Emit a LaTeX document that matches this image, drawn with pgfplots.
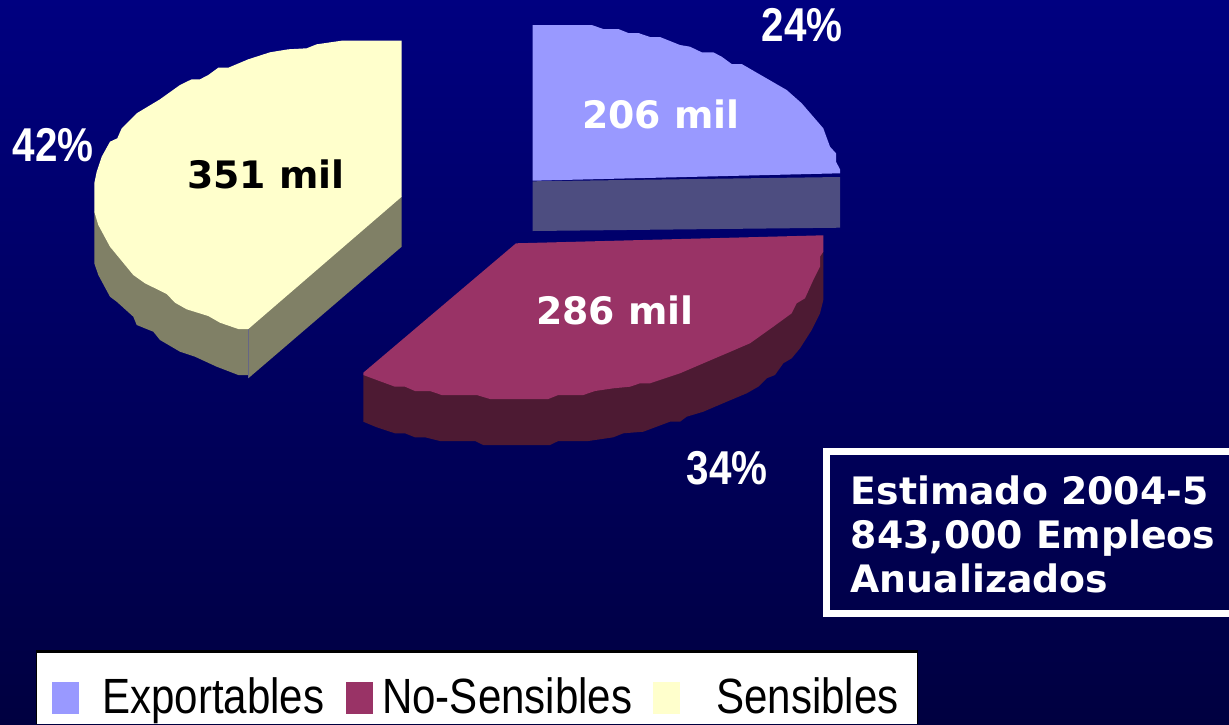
\documentclass[border=0pt]{standalone}
\usepackage{fontspec}
\usepackage{pgfplots}
\pgfplotsset{compat=1.18}
\setmainfont{DejaVu Sans}
\newfontfamily\narrowfont[FakeStretch=0.85]{Liberation Sans}
\definecolor{bgtop}{RGB}{0,0,128}
\definecolor{bgbot}{RGB}{0,0,64}
\definecolor{expo}{RGB}{153,153,255}
\definecolor{exposide}{RGB}{77,77,128}
\definecolor{nosens}{RGB}{153,51,102}
\definecolor{nosensside}{RGB}{77,26,51}
\definecolor{sens}{RGB}{255,255,204}
\definecolor{sensside}{RGB}{128,128,102}

\begin{document}
\begin{tikzpicture}
  \begin{axis}[
    scale only axis,
    width=1229pt, height=724pt,
    xmin=0, xmax=1229,
    ymin=0, ymax=724,
    y dir=reverse,
    xtick=\empty, ytick=\empty,
    axis line style={draw=none},
    axis background/.style={top color=bgtop, bottom color=bgbot},
  ]
    % Sensibles
    \addplot[fill=sensside, draw=none] coordinates {
      (94.3,211.7) (94.3,263.3) (98.3,275) (110,296.7) (116.7,301.7) (133.3,316.7)
      (136.7,325) (153.3,331.7) (160,340) (180,351.7) (195,356.7) (216.7,366.7)
      (238.3,375) (248.3,375) (248.3,378.3) (401.7,246.7) (401.7,196.7)
    } --cycle;
    \addplot[color=sensside!80!blue, line width=0.6pt] coordinates {(248.3,329) (248.3,378)};
    \addplot[fill=sens, draw=none] coordinates {
      (401.7,40.7) (341.7,40.7) (316.7,44.3) (306.7,48.3) (288.3,49.3) (270,52.3)
      (248.3,59.3) (228.3,67.7) (218.3,67.7) (208.3,75) (200,79.3) (191.7,79.3)
      (180,85) (160,99.3) (136.7,113.3) (121.7,128.3) (117.3,138.3) (110,141.7)
      (101.7,156.7) (96.7,171.7) (94.3,183.3) (94.3,211.7) (98.3,225) (110,246.7)
      (133.3,275) (145,283.3) (166.7,294) (175,302.7) (186.7,309.3) (208.3,316)
      (220,322.7) (238.3,329) (248.3,329) (401.7,196.7)
    } --cycle;

    % No-Sensibles
    \addplot[fill=nosensside, draw=none] coordinates {
      (363.3,375) (363.3,421.7) (376.7,427.3) (395,433.3) (405,433.3) (415,437.3)
      (425,437.3) (440,441) (475,441) (483.3,445) (550,445) (558.3,441) (588.3,441)
      (613.3,437.3) (623.3,433.3) (643.3,431.7) (670,421.7) (680,421.7) (686.7,416.7)
      (703.3,411.7) (726.7,401.7) (746.7,393.3) (758.3,386.7) (766.7,378.3) (775,375)
      (783.3,363.3) (791.7,358.3) (800,348.3) (811.7,330) (820,313.3) (823.3,300)
      (823.3,251.7)
    } --cycle;
    \addplot[fill=nosens, draw=none] coordinates {
      (516,243.3) (823.3,235.3) (823.3,251.7) (820,256.7) (820,266.7) (813.3,280)
      (805,298.3) (796.7,303.3) (791.7,313.3) (773.3,326.7) (750,343.3) (726.7,353.3)
      (703.3,363.3) (680,373.3) (650,383.3) (640,383.3) (630,386.7) (613.3,388.3)
      (595,391) (583.3,395) (558.3,395) (548.3,399) (490,399) (476.7,395) (441.7,395)
      (430,391) (415,391) (405,386.7) (395,386.7) (376.7,380) (363.3,375) (363.3,372.7)
    } --cycle;

    % Exportables
    \addplot[fill=exposide, draw=none] coordinates {
      (532.7,181.3) (840,177) (840,227.7) (532.7,231)
    } --cycle;
    \addplot[fill=expo, draw=none] coordinates {
      (532.7,25) (591.7,25) (603.3,29) (618.3,29) (628.3,33) (638.3,33) (650,37) (660,37)
      (680,45) (690,46.7) (701.7,52.3) (713.3,52.3) (721.7,56.7) (731.7,64) (741.7,64)
      (786.7,90) (801.7,103.3) (823.3,128.3) (830,146.7) (836,153.3) (836,161.7)
      (840,169.3) (840,173.3) (532.7,180.7)
    } --cycle;

    % labels on the slices
    \node[anchor=base west, inner sep=0pt, text=white, font=\fontsize{37.8}{44}\selectfont\bfseries] at (axis cs:582,128) {206 mil};
    \node[anchor=base west, inner sep=0pt, text=white, font=\fontsize{37.8}{44}\selectfont\bfseries] at (axis cs:536,324) {286 mil};
    \node[anchor=base west, inner sep=0pt, text=black, font=\fontsize{37.8}{44}\selectfont\bfseries] at (axis cs:187,188) {351 mil};

    % percentages
    \node[anchor=base west, inner sep=0pt, text=white, font=\fontsize{47.5}{54}\selectfont\narrowfont\bfseries] at (axis cs:761.5,41) {24\%};
    \node[anchor=base west, inner sep=0pt, text=white, font=\fontsize{47.5}{54}\selectfont\narrowfont\bfseries] at (axis cs:686.5,484) {34\%};
    \node[anchor=base west, inner sep=0pt, text=white, font=\fontsize{47.5}{54}\selectfont\narrowfont\bfseries] at (axis cs:12.5,161) {42\%};

    % note box, runs off the right edge
    \draw[white, line width=7.5pt] (axis cs:826.7,451.7) rectangle (axis cs:1240,613.3);
    \node[anchor=base west, inner sep=0pt, text=white, font=\fontsize{37.8}{44}\selectfont\bfseries] at (axis cs:850.5,504) {Estimado 2004-5};
    \node[anchor=base west, inner sep=0pt, text=white, font=\fontsize{37.8}{44}\selectfont\bfseries] at (axis cs:850.5,548) {843,000 Empleos};
    \node[anchor=base west, inner sep=0pt, text=white, font=\fontsize{37.8}{44}\selectfont\bfseries] at (axis cs:850.5,592) {Anualizados};

    % legend
    \addplot[fill=black, draw=none] coordinates {(36,650) (918,650) (918,724) (36,724)} --cycle;
    \addplot[fill=white, draw=none] coordinates {(37,653) (917,653) (917,724) (37,724)} --cycle;
    \addplot[fill=expo, draw=none] coordinates {(52,682) (79,682) (79,714) (52,714)} --cycle;
    \addplot[fill=nosens, draw=none] coordinates {(346,682) (373,682) (373,714) (346,714)} --cycle;
    \addplot[fill=sens, draw=none] coordinates {(653,682) (680,682) (680,714) (653,714)} --cycle;
    \node[anchor=base west, inner sep=0pt, text=black, font=\fontsize{49.5}{56}\selectfont\narrowfont] at (axis cs:102,713) {Exportables};
    \node[anchor=base west, inner sep=0pt, text=black, font=\fontsize{49.5}{56}\selectfont\narrowfont] at (axis cs:382,713) {No-Sensibles};
    \node[anchor=base west, inner sep=0pt, text=black, font=\fontsize{49.5}{56}\selectfont\narrowfont] at (axis cs:716,713) {Sensibles};
  \end{axis}
\end{tikzpicture}
\end{document}
